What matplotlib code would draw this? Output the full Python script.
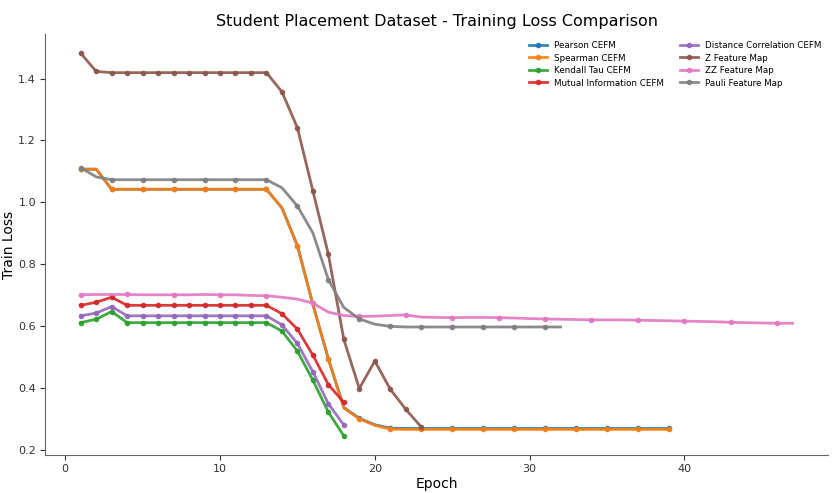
import matplotlib
matplotlib.use("Agg")
import matplotlib.pyplot as plt

title = "Student Placement Dataset - Training Loss Comparison"

pearson = [1.107, 1.107, 1.042, 1.042, 1.042, 1.042, 1.042, 1.042, 1.042, 1.042,
           1.042, 1.042, 1.042, 0.982, 0.860, 0.670, 0.494, 0.337, 0.302, 0.281,
           0.270] + [0.269] * 18
spearman = [1.107, 1.107, 1.042, 1.042, 1.042, 1.042, 1.042, 1.042, 1.042, 1.042,
            1.042, 1.042, 1.042, 0.982, 0.860, 0.670, 0.494, 0.335, 0.300, 0.279,
            0.267] + [0.266] * 18
kendall = [0.611, 0.622, 0.647, 0.611, 0.611, 0.611, 0.611, 0.611, 0.611, 0.611,
           0.611, 0.611, 0.611, 0.584, 0.519, 0.425, 0.322, 0.245]
mutual_info = [0.667, 0.677, 0.693, 0.667, 0.667, 0.667, 0.667, 0.667, 0.667, 0.667,
               0.667, 0.667, 0.667, 0.640, 0.590, 0.506, 0.411, 0.353]
distance_corr = [0.633, 0.642, 0.663, 0.633, 0.633, 0.633, 0.633, 0.633, 0.633, 0.633,
                 0.633, 0.633, 0.633, 0.604, 0.544, 0.452, 0.349, 0.280]
z_map = [1.482, 1.423, 1.419, 1.419, 1.419, 1.419, 1.419, 1.419, 1.419, 1.419,
         1.419, 1.419, 1.419, 1.357, 1.241, 1.037, 0.832, 0.557, 0.398, 0.487,
         0.396, 0.331, 0.274]
zz_map = [0.701, 0.702, 0.702, 0.702, 0.701, 0.701, 0.701, 0.701, 0.702, 0.701,
          0.701, 0.699, 0.698, 0.693, 0.687, 0.674, 0.645, 0.634, 0.631, 0.632,
          0.634, 0.636, 0.629, 0.628, 0.627, 0.628, 0.628, 0.627, 0.626, 0.624,
          0.623, 0.622, 0.621, 0.620, 0.620, 0.620, 0.619, 0.618, 0.617, 0.616,
          0.615, 0.614, 0.612, 0.611, 0.610, 0.609, 0.609]
pauli_map = [1.112, 1.082, 1.073, 1.073, 1.073, 1.073, 1.073, 1.073, 1.073, 1.073,
             1.073, 1.073, 1.073, 1.047, 0.988, 0.901, 0.750, 0.660, 0.623, 0.606,
             0.599] + [0.597] * 11

series = [
    ("Pearson CEFM", pearson, "#1f77b4"),
    ("Spearman CEFM", spearman, "#ff7f0e"),
    ("Kendall Tau CEFM", kendall, "#2ca02c"),
    ("Mutual Information CEFM", mutual_info, "#d62728"),
    ("Distance Correlation CEFM", distance_corr, "#9467bd"),
    ("Z Feature Map", z_map, "#8c564b"),
    ("ZZ Feature Map", zz_map, "#e377c2"),
    ("Pauli Feature Map", pauli_map, "#7f7f7f"),
]

fig = plt.figure(figsize=(8.35, 4.93), dpi=100)
ax = fig.add_axes([0.054, 0.077, 0.938, 0.854])

for name, vals, color in series:
    epochs = list(range(1, len(vals) + 1))
    me = max(1, len(vals) // 15)
    ax.plot(epochs, vals, color=color, linewidth=2, marker="o", markersize=3,
            markevery=me, label=name, alpha=0.9)

ax.set_title(title, fontsize=11.5)
ax.set_xlabel("Epoch", fontsize=10, labelpad=2)
ax.set_ylabel("Train Loss", fontsize=10, labelpad=2)
ax.tick_params(labelsize=8, colors="#333333", pad=3)
for s in ("top", "right"):
    ax.spines[s].set_visible(False)
for s in ("left", "bottom"):
    ax.spines[s].set_color("#666666")
ax.set_yticks([0.2, 0.4, 0.6, 0.8, 1.0, 1.2, 1.4])
ax.set_xticks([0, 10, 20, 30, 40])

ax.legend(loc="upper right", ncol=2, fontsize=6.3, frameon=False,
          handlelength=2.0, handletextpad=0.8, columnspacing=1.9,
          labelspacing=0.4, borderaxespad=0.4)

fig.savefig("out.png", dpi=100)
